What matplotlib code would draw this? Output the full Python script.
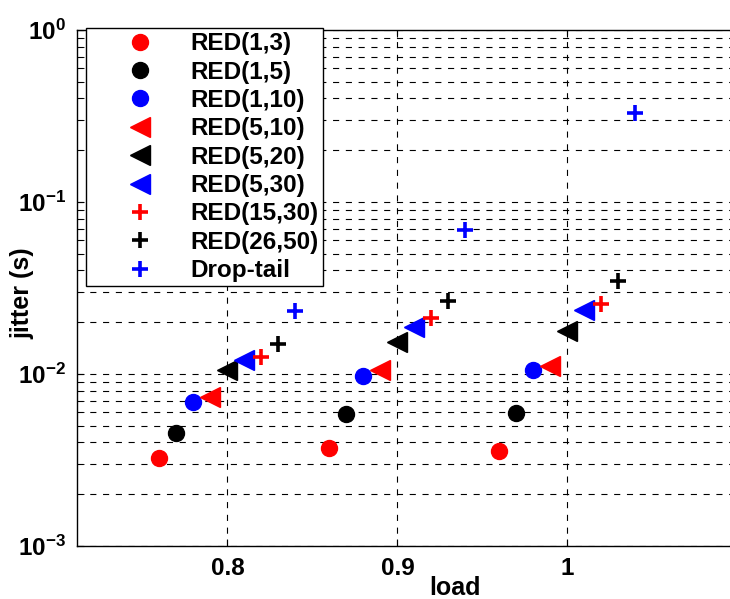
import numpy as np
import matplotlib
matplotlib.use('Agg')
import matplotlib.pyplot as plt

plt.rcParams['font.family'] = ['Liberation Sans', 'DejaVu Sans']
plt.rcParams['font.weight'] = 'bold'
plt.rcParams['mathtext.fontset'] = 'custom'
plt.rcParams['mathtext.bf'] = 'Liberation Sans:bold'
plt.rcParams['mathtext.rm'] = 'Liberation Sans:bold'

# data
loads = [0.8, 0.9, 1.0]
labels = ['RED(1,3)', 'RED(1,5)', 'RED(1,10)', 'RED(5,10)', 'RED(5,20)',
          'RED(5,30)', 'RED(15,30)', 'RED(26,50)', 'Drop-tail']
red_1_3 = [0.00324, 0.00370, 0.00358]
red_1_5 = [0.00456, 0.00585, 0.00595]
red_1_10 = [0.00685, 0.0097, 0.0105]
red_5_10 = [0.00738, 0.0105, 0.0111]
red_5_20 = [0.0105, 0.0153, 0.0179]
red_5_30 = [0.0120, 0.0188, 0.0236]
red_15_30 = [0.0126, 0.0211, 0.0254]
red_26_50 = [0.0149, 0.0267, 0.0349]
drop_tail = [0.0233, 0.0687, 0.33]
xtick_labels = ['0.8', '0.9', '1']
ytick_exps = [-3, -2, -1, 0]

series = [red_1_3, red_1_5, red_1_10, red_5_10, red_5_20,
          red_5_30, red_15_30, red_26_50, drop_tail]
colors = ['red', 'black', 'blue'] * 3
markers = ['o'] * 3 + ['<'] * 3 + ['+'] * 3
sizes = [11.5] * 3 + [14] * 3 + [11.5] * 3

# axes run past the right edge of the canvas, as in the cropped original
xmin, xmax = 0.7115, 1.12
fig = plt.figure(figsize=(7.30, 5.99), dpi=100)
ax = fig.add_axes([77/730, 53/599, (xmax - xmin)*1700/730, 516/599])

for i, (vals, lbl) in enumerate(zip(series, labels)):
    x = np.array(loads) - 0.04 + 0.01*i
    mew = 2.6 if markers[i] == '+' else 1
    ax.plot(x, vals, linestyle='none', marker=markers[i], color=colors[i],
            markersize=sizes[i], markeredgewidth=mew, label=lbl)

ax.set_yscale('log')
ax.set_ylim(1e-3, 1)
ax.set_xlim(xmin, xmax)
ax.set_xticks(loads)
ax.set_xticklabels(xtick_labels)
ax.set_yticks([10.0**e for e in ytick_exps])
ax.set_yticklabels([r'$\mathbf{10^{%d}}$' % e for e in ytick_exps])

dash = (0, (5.5, 6))
ax.grid(True, which='major', axis='both', color='black', linestyle=dash, linewidth=0.8)
ax.grid(True, which='minor', axis='y', color='black', linestyle=dash, linewidth=0.8)
ax.tick_params(which='both', direction='in', top=True, right=True, labelsize=17.5, pad=8)
ax.tick_params(which='major', length=5)
ax.tick_params(which='minor', length=5)
for s in ax.spines.values():
    s.set_linewidth(1)

ax.set_xlabel('load', fontsize=18, fontweight='bold')
ax.set_ylabel('jitter (s)', fontsize=18, fontweight='bold')
ax.xaxis.set_label_coords((455 - 77)/((xmax - xmin)*1700), -0.058)
ax.yaxis.set_label_coords(-0.065*661/((xmax - xmin)*1700), 0.49)

leg = ax.legend(loc='upper left', bbox_to_anchor=(9/((xmax - xmin)*1700), 1.004),
                borderaxespad=0, fontsize=17.5, numpoints=1, fancybox=False,
                framealpha=1, edgecolor='black', handlelength=4.05,
                handletextpad=0.05, labelspacing=0.22, borderpad=0.18)
leg.get_frame().set_linewidth(1)
leg.set_zorder(5)

fig.savefig('out.png', dpi=100)
